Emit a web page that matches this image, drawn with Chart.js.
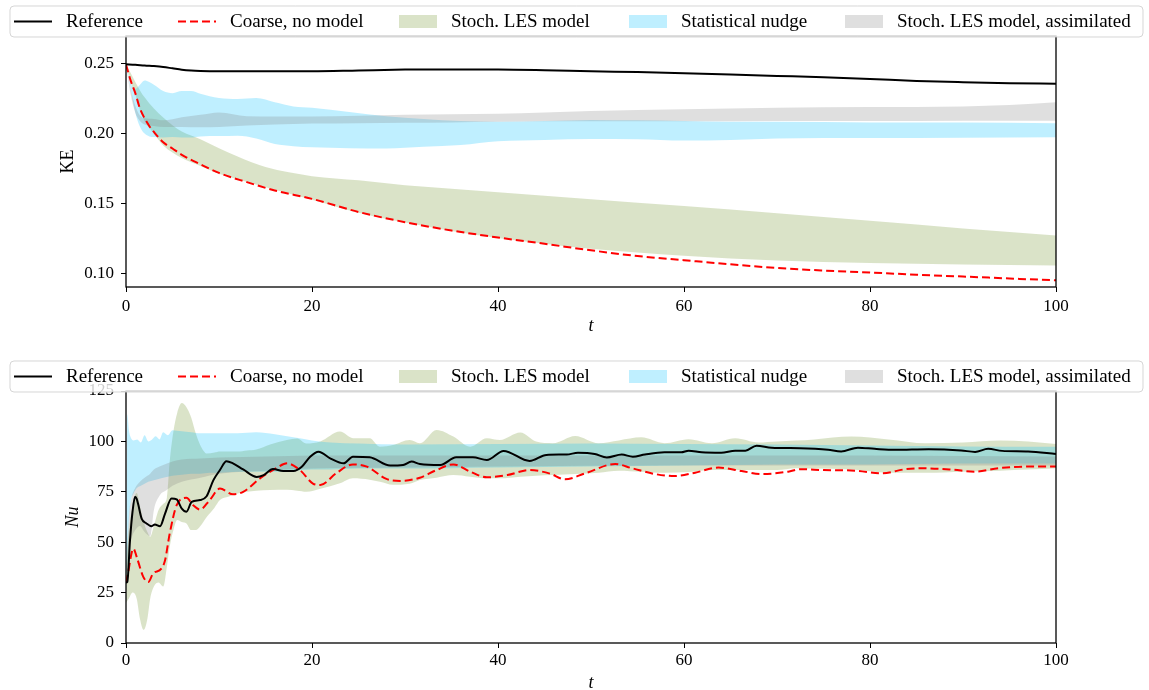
<!DOCTYPE html>
<html>
<head>
<meta charset="utf-8">
<script src="https://cdn.jsdelivr.net/npm/chart.js@4.4.1/dist/chart.umd.min.js"></script>
<style>
  html, body { margin: 0; padding: 0; background: #fff; overflow: hidden; }
  #wrap { position: relative; width: 1149px; height: 690px; }
  canvas { position: absolute; left: 0; }
</style>
</head>
<body>
<div id="wrap">
  <canvas id="ke" width="1149" height="345" style="top:0"></canvas>
  <canvas id="nu" width="1149" height="345" style="top:345px"></canvas>
</div>
<script>
(function () {
    "use strict";

    // ---- tick labels ----
    const tTicks = [0, 20, 40, 60, 80, 100];
    const keTicks = [0.10, 0.15, 0.20, 0.25];
    const nuTicks = [0, 25, 50, 75, 100, 125];

    // ---- KE (top panel) ----
    const keRefT = [0, 1, 2, 3, 4, 5, 6, 7, 8, 10, 15, 20, 25, 30, 35, 40, 45, 50, 55, 60, 65, 70, 75, 80, 85, 90, 95, 100];
    const keRef = [0.2497, 0.2494, 0.2488, 0.2484, 0.2478, 0.2468, 0.2458, 0.2452, 0.2449, 0.2447, 0.2447, 0.2447, 0.2453, 0.2459,
        0.246, 0.246, 0.2455, 0.2447, 0.2441, 0.2433, 0.2424, 0.2414, 0.2404, 0.2392, 0.2378, 0.2369, 0.2362, 0.2357];

    const keCoarseT = [0, 0.5, 1, 1.5, 2, 2.5, 3, 4, 5, 6, 8, 10, 13, 16, 20, 25, 30, 35, 40, 45, 50, 55, 60, 65, 70, 75, 80, 85, 90, 95, 100];
    const keCoarse = [0.2495, 0.238, 0.229, 0.218, 0.211, 0.2055, 0.2012, 0.1938, 0.1893, 0.1848, 0.178, 0.1718, 0.1652, 0.1592,
        0.1532, 0.1438, 0.1365, 0.1305, 0.1255, 0.121, 0.1163, 0.1122, 0.1092, 0.1063, 0.1036, 0.1018, 0.1004, 0.0988, 0.0975, 0.0961, 0.0948];

    const keLesT = [0, 0.5, 1, 1.5, 2, 3, 4, 5, 6, 8, 10, 12, 15, 20, 25, 30, 35, 40, 50, 60, 70, 80, 90, 100];
    const keLesHi = [0.25, 0.2435, 0.237, 0.231, 0.226, 0.218, 0.2115, 0.206, 0.2015, 0.196, 0.1895, 0.1835, 0.176, 0.1695,
        0.1665, 0.163, 0.1605, 0.158, 0.153, 0.148, 0.1428, 0.1375, 0.132, 0.127];
    const keLesLo = [0.25, 0.237, 0.228, 0.217, 0.209, 0.2, 0.1915, 0.1865, 0.1825, 0.1768, 0.1713, 0.1672, 0.1615, 0.1525,
        0.1432, 0.1362, 0.1302, 0.1252, 0.1175, 0.1125, 0.109, 0.1072, 0.1062, 0.1055];

    const keNudgeT = [0, 0.5, 1, 1.5, 2, 2.5, 3, 4, 5, 6, 7, 8, 10, 12, 14, 16, 18, 20, 24, 28, 32, 36, 40, 45, 50, 55, 60, 65, 70, 80, 90, 100];
    const keNudgeHi = [0.249, 0.236, 0.232, 0.235, 0.238, 0.237, 0.235, 0.2305, 0.229, 0.2305, 0.2305, 0.2285, 0.2255, 0.2248,
        0.2255, 0.2225, 0.2195, 0.2185, 0.2155, 0.2125, 0.2105, 0.209, 0.2085, 0.209, 0.2098, 0.2095, 0.209, 0.2085, 0.2085,
        0.208, 0.208, 0.2075];
    const keNudgeLo = [0.249, 0.232, 0.215, 0.205, 0.2, 0.198, 0.1975, 0.1972, 0.1975, 0.1972, 0.1972, 0.198, 0.1982, 0.1985,
        0.1965, 0.1925, 0.191, 0.1902, 0.1895, 0.1893, 0.1905, 0.1918, 0.1945, 0.1955, 0.1962, 0.196, 0.195, 0.1955, 0.1965,
        0.1968, 0.197, 0.1974];

    const keAssimT = [0, 0.5, 1, 1.5, 2, 3, 4, 6, 8, 10, 13, 16, 20, 25, 30, 35, 40, 50, 60, 70, 80, 90, 95, 100];
    const keAssimHi = [0.249, 0.232, 0.22, 0.213, 0.211, 0.2105, 0.2095, 0.2118, 0.2135, 0.2152, 0.2125, 0.2122, 0.2122,
        0.2128, 0.2135, 0.2138, 0.2142, 0.2162, 0.2175, 0.2185, 0.219, 0.2195, 0.2205, 0.2225];
    const keAssimLo = [0.249, 0.228, 0.215, 0.209, 0.2065, 0.2055, 0.2048, 0.2048, 0.2046, 0.2048, 0.2058, 0.2065, 0.2072,
        0.2075, 0.2078, 0.208, 0.2085, 0.2088, 0.2088, 0.209, 0.209, 0.2092, 0.2092, 0.2092];

    // ---- Nu (bottom panel) ----
    const nuRefT = [0, 0.14, 0.43, 0.7, 0.97, 1.15, 1.33, 1.68, 2.2, 2.76, 3.1, 3.66, 4.2, 4.9, 5.45, 6, 6.5, 7.06, 7.96, 8.67,
        9.4, 10.1, 10.8, 11.5, 12.6, 14.05, 14.8, 15.8, 16.9, 18, 18.9, 19.8, 20.7, 22, 23.4, 24.4, 26.2, 28.4, 29.8, 30.7,
        31.6, 33.8, 35.5, 37.3, 38.8, 40.6, 43.4, 45.2, 47.4, 48.6, 50.4, 51.7, 53.3, 54.5, 55.8, 57.9, 59.7, 60.5, 61.9, 64,
        65.5, 66.6, 67.8, 69.4, 72.5, 74.1, 75.5, 76.9, 78.7, 80.5, 82.7, 86.3, 89.8, 91.3, 92.7, 94.2, 97, 100];
    const nuRef = [30, 30.3, 51, 65, 72.5, 71.5, 68.4, 61.7, 59.3, 57.9, 58.8, 57.9, 64.2, 71.7, 71.2, 66.7, 65.1, 70, 70.9, 72.8,
        80.8, 85.8, 90.2, 89.1, 86.1, 82.4, 83.3, 86.3, 85.3, 85.3, 87.4, 92.4, 94.9, 91.5, 89.1, 92.4, 92.1, 88, 88.3, 90,
        88.8, 88.3, 92.1, 92.1, 90.8, 95.3, 90.3, 93.3, 93.5, 94.4, 93.8, 92, 93.5, 92.4, 93.5, 94.6, 94.6, 95.4, 94.6, 94.4,
        95.4, 95.4, 97.9, 96.9, 96.6, 96.3, 95.8, 95, 96.9, 96.3, 95.8, 96.1, 95.5, 94.8, 96.3, 95.3, 95, 93.8];

    const nuCoarseT = [0, 0.14, 0.8, 1.15, 1.86, 2.4, 2.9, 3.8, 4.2, 4.7, 5.45, 6.5, 7.2, 7.96, 9, 10.1, 11.5, 12.6, 14.4, 16.2,
        17.3, 18.7, 20.1, 20.9, 22.6, 24.4, 25.9, 28, 29.5, 31.6, 33.4, 35.2, 37, 38.8, 41, 43.4, 45.6, 47.2, 49.4, 52.6,
        54.4, 56.9, 59, 61.2, 63.7, 66.2, 68.3, 71.2, 72.5, 75, 78.4, 81.3, 83.8, 85.5, 88.8, 91.3, 93.8, 97, 100];
    const nuCoarse = [30, 32.8, 46.8, 42.7, 32.8, 30.3, 34.4, 36.9, 41, 54.3, 68.4, 72, 68.4, 66.2, 70.9, 76.6, 73.8, 75, 81.6, 86.9,
        89.1, 85.8, 79.1, 78.4, 84.2, 88.6, 87.5, 81.4, 80.4, 82, 85.8, 88.6, 85, 82.2, 83.3, 85.8, 84, 81.2, 84.2, 88.8,
        86.7, 83.8, 82.8, 84.5, 87, 85.3, 83.8, 85, 86.2, 85.8, 85.5, 84.2, 86.2, 86.7, 86, 85, 86.7, 87.5, 87.5];

    const nuLesT = [0, 0.3, 0.7, 1.15, 1.5, 1.9, 2.3, 2.6, 3, 3.5, 4, 4.4, 4.7, 5.1, 5.5, 6, 6.5, 7, 7.5, 8,
        8.7, 9.5, 10.1, 11, 12, 13, 14, 15.5, 17.3, 18.4, 19.4, 20.9, 23, 24.4, 26.2, 27.3, 28.7, 30.5, 31.6, 33.4,
        35.2, 37, 38.8, 40.2, 42.4, 44.1, 45.9, 48.3, 50.8, 53, 55.4, 57.9, 60.5, 63, 65.5, 68, 70, 72, 74, 78,
        82, 86, 90, 94, 97, 100];
    const nuLesHi = [38, 55, 68, 74.4, 68, 60, 55, 52.7, 58, 66, 69, 72, 90, 105, 114, 119, 117, 112, 104, 98,
        94, 94.5, 95, 95, 95, 95.5, 96, 98.5, 100.7, 101.5, 99, 100, 104.9, 101.6, 101.6, 97.4, 98.2, 100.7, 99.1, 105.7,
        102.4, 97.4, 101.6, 100.7, 104.4, 99.9, 99.1, 102.7, 99.1, 100.5, 102, 99.1, 101.1, 99.1, 101.6, 99.5, 100, 100.4, 101, 102.4,
        101, 99.1, 99.4, 100.4, 100, 98.7];
    const nuLesLo = [20, 22, 25, 22, 12, 6.5, 12, 22, 28, 30, 28, 38, 47.7, 56, 61, 60, 59.3, 56, 56, 58,
        62.6, 67, 70.9, 72.5, 74.2, 75, 75.5, 75.9, 76, 75.5, 75, 76.5, 79.2, 81.7, 81, 80, 78.5, 79, 80.9, 82,
        83.3, 82.5, 81.7, 81.7, 82.5, 83, 83.3, 83.8, 84.5, 85.5, 85, 84.5, 84.8, 85.8, 85.8, 85.8, 85.8, 86.7, 86.5, 86,
        84.5, 84.5, 85, 85.5, 86, 86.7];

    const nuNudgeT = [0, 0.15, 0.3, 0.5, 0.8, 1.2, 1.6, 2, 2.4, 2.8, 3.2, 3.6, 4, 4.5, 5, 6, 7, 8, 9, 10,
        12, 14, 16, 18, 20, 22, 25, 30, 40, 50, 60, 70, 80, 90, 100];
    const nuNudgeHi = [35, 113.5, 106, 102, 100.5, 101, 99.5, 103, 100, 101, 102.5, 101, 104.5, 103, 105.5, 105, 104.5, 104, 104, 104,
        104, 104.5, 103.5, 102, 100.5, 99.5, 99, 98.5, 98.7, 99, 98.7, 98.5, 98, 97.5, 97.3];
    const nuNudgeLo = [30, 40, 60, 70, 74, 77, 78, 79, 80, 80.5, 81, 81.5, 82, 82.5, 83, 83.5, 84, 84, 84.5, 84.5,
        85, 85, 85, 85.5, 86, 86, 86.5, 86.5, 87, 87.5, 88, 88.5, 88.5, 89, 89];

    const nuAssimT = [0, 0.3, 0.6, 1, 1.5, 2, 2.6, 3, 3.6, 4.4, 5, 6, 8, 10, 15, 20, 30, 40, 60, 80, 100];
    const nuAssimHi = [30, 62, 72, 77, 80, 82, 84, 86, 87.5, 89, 90, 91, 91.5, 92, 92.5, 93, 93, 93, 93, 93, 92.5];
    const nuAssimLo = [30, 45, 52, 56, 58, 55, 53, 66, 73, 76, 78, 80, 82, 84, 85.5, 86.5, 87, 87.5, 88, 88, 88];

    // ---- styles ----
    const GREEN = "rgba(107,142,35,0.25)";
    const BLUE = "rgba(0,191,255,0.25)";
    const GRAY = "rgba(128,128,128,0.25)";
    const FONT = '"Liberation Serif", "Times New Roman", serif';

    Chart.defaults.font.family = FONT;
    Chart.defaults.color = "#000";

    const legendItems = [
        { label: "Reference", kind: "line", color: "#000", dash: [] },
        { label: "Coarse, no model", kind: "line", color: "#ff0000", dash: [8, 4] },
        { label: "Stoch. LES model", kind: "patch", color: GREEN },
        { label: "Statistical nudge", kind: "patch", color: BLUE },
        { label: "Stoch. LES model, assimilated", kind: "patch", color: GRAY },
    ];
    const legendHandleX = [14, 178, 399, 629, 845];

    const pts = (t, v) => t.map((x, i) => ({ x: x, y: v[i] }));

    const band = (label, t, hi, lo, color, order) => [
        { label: label, data: pts(t, hi), fill: "+1", backgroundColor: color, borderColor: "transparent", borderWidth: 0, order: order },
        { label: label + " lower", data: pts(t, lo), fill: false, borderColor: "transparent", borderWidth: 0, order: order },
    ];

    const lines = (refT, ref, coarseT, coarse) => [
        { label: "Reference", data: pts(refT, ref), borderColor: "#000", borderWidth: 2, fill: false, order: 0 },
        { label: "Coarse, no model", data: pts(coarseT, coarse), borderColor: "#ff0000", borderWidth: 2, borderDash: [8, 4], fill: false, order: 0 },
    ];

    function drawLegend(chart) {
        const ctx = chart.ctx;
        const a = chart.chartArea;
        const bottom = a.top + 1, top = bottom - 31, left = 10, right = 1143, r = 4;
        ctx.save();
        ctx.beginPath();
        ctx.moveTo(left + r, top);
        ctx.lineTo(right - r, top);
        ctx.arcTo(right, top, right, top + r, r);
        ctx.lineTo(right, bottom - r);
        ctx.arcTo(right, bottom, right - r, bottom, r);
        ctx.lineTo(left + r, bottom);
        ctx.arcTo(left, bottom, left, bottom - r, r);
        ctx.lineTo(left, top + r);
        ctx.arcTo(left, top, left + r, top, r);
        ctx.closePath();
        ctx.fillStyle = "rgba(255,255,255,0.8)";
        ctx.fill();
        ctx.strokeStyle = "rgba(204,204,204,0.8)";
        ctx.lineWidth = 1;
        ctx.stroke();

        const cy = (top + bottom) / 2;
        ctx.font = "19px " + FONT;
        ctx.textBaseline = "middle";
        ctx.textAlign = "left";
        legendItems.forEach((it, i) => {
            const x0 = legendHandleX[i];
            if (it.kind === "line") {
                ctx.beginPath();
                ctx.setLineDash(it.dash);
                ctx.strokeStyle = it.color;
                ctx.lineWidth = 2;
                ctx.moveTo(x0, cy);
                ctx.lineTo(x0 + 38, cy);
                ctx.stroke();
                ctx.setLineDash([]);
            } else {
                ctx.fillStyle = it.color;
                ctx.fillRect(x0, cy - 6.5, 38, 13);
            }
            ctx.fillStyle = "#000";
            ctx.fillText(it.label, x0 + 52, cy + 1);
        });
        ctx.restore();
    }

    const framePlugin = {
        id: "frame",
        afterDatasetsDraw(chart) {
            const ctx = chart.ctx;
            const a = chart.chartArea;
            ctx.save();
            ctx.strokeStyle = "#000";
            ctx.lineWidth = 1.3;
            ctx.strokeRect(a.left, a.top, a.right - a.left, a.bottom - a.top);
            ctx.restore();
        },
        afterDraw(chart) {
            drawLegend(chart);
        },
    };

    function makeChart(id, cfg) {
        return new Chart(document.getElementById(id), {
            type: "line",
            data: { datasets: cfg.datasets },
            options: {
                responsive: false,
                animation: false,
                layout: { padding: { top: cfg.padTop, right: 93, bottom: 0, left: 0 } },
                elements: {
                    point: { radius: 0 },
                    line: { cubicInterpolationMode: "monotone" },
                },
                plugins: { legend: { display: false }, tooltip: { enabled: false } },
                scales: {
                    x: {
                        type: "linear",
                        min: 0,
                        max: 100,
                        afterBuildTicks: (s) => { s.ticks = tTicks.map((v) => ({ value: v })); },
                        afterFit: (s) => { s.height = cfg.xHeight; },
                        grid: { drawOnChartArea: false, drawTicks: true, tickLength: 5, color: "#000", lineWidth: 1 },
                        border: { display: false },
                        ticks: { font: { size: 17 }, padding: cfg.xPad, maxRotation: 0, color: "#000" },
                        title: {
                            display: true,
                            text: "t",
                            font: { size: 18, style: "italic", lineHeight: 1.2 },
                            padding: { top: 0, bottom: cfg.xTitlePad },
                        },
                    },
                    y: {
                        type: "linear",
                        min: cfg.yMin,
                        max: cfg.yMax,
                        afterBuildTicks: (s) => { s.ticks = cfg.yTicks.map((v) => ({ value: v })); },
                        afterFit: (s) => { s.width = 126; },
                        grid: { drawOnChartArea: false, drawTicks: true, tickLength: 5, color: "#000", lineWidth: 1 },
                        border: { display: false },
                        ticks: { font: { size: 17 }, padding: 7, color: "#000", callback: cfg.yFormat },
                        title: {
                            display: true,
                            text: cfg.yTitle,
                            font: { size: 18, style: cfg.yTitleStyle, lineHeight: 1.2 },
                            padding: { top: cfg.yTitlePad, bottom: 0 },
                        },
                    },
                },
            },
            plugins: [framePlugin],
        });
    }

    makeChart("ke", {
        datasets: [
            ...lines(keRefT, keRef, keCoarseT, keCoarse),
            ...band("Stoch. LES model, assimilated", keAssimT, keAssimHi, keAssimLo, GRAY, 1),
            ...band("Statistical nudge", keNudgeT, keNudgeHi, keNudgeLo, BLUE, 2),
            ...band("Stoch. LES model", keLesT, keLesHi, keLesLo, GREEN, 3),
        ],
        padTop: 36,
        xHeight: 58,
        xPad: 4,
        xTitlePad: 8,
        yMin: 0.09,
        yMax: 0.27,
        yTicks: keTicks,
        yFormat: (v) => Number(v).toFixed(2),
        yTitle: "KE",
        yTitleStyle: "normal",
        yTitlePad: 57,
    });

    makeChart("nu", {
        datasets: [
            ...lines(nuRefT, nuRef, nuCoarseT, nuCoarse),
            ...band("Stoch. LES model, assimilated", nuAssimT, nuAssimHi, nuAssimLo, GRAY, 1),
            ...band("Statistical nudge", nuNudgeT, nuNudgeHi, nuNudgeLo, BLUE, 2),
            ...band("Stoch. LES model", nuLesT, nuLesHi, nuLesLo, GREEN, 3),
        ],
        padTop: 46,
        xHeight: 47,
        xPad: 2,
        xTitlePad: -4,
        yMin: 0,
        yMax: 125,
        yTicks: nuTicks,
        yFormat: (v) => String(v),
        yTitle: "Nu",
        yTitleStyle: "italic",
        yTitlePad: 62,
    });
})();
</script>
</body>
</html>
